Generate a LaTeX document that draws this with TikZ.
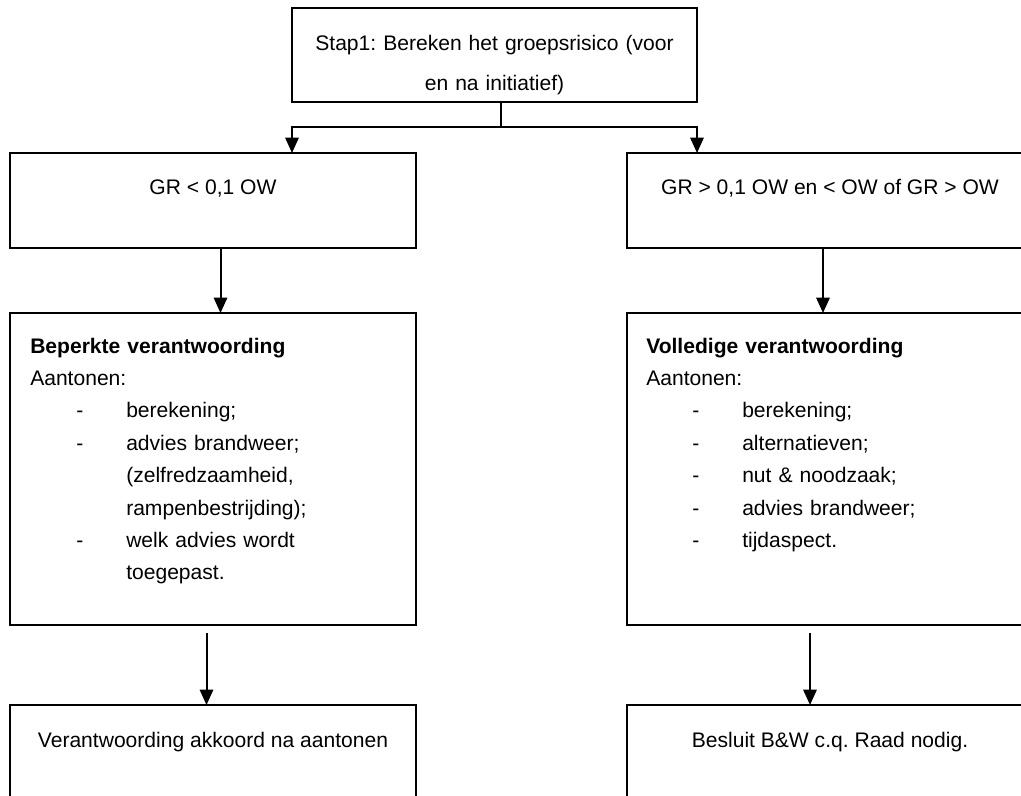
\documentclass[tikz,border=0pt]{standalone}
\usepackage{fontspec}
\setmainfont{Liberation Sans}
\usetikzlibrary{arrows.meta,calc}

\newlength{\pxu}\setlength{\pxu}{0.75pt}
\newcommand{\itm}[1]{\makebox[96\pxu][l]{\hspace*{46\pxu}-}#1}
\newcommand{\cnt}[1]{\hspace*{96\pxu}#1}
\frenchspacing

\begin{document}
\begin{tikzpicture}[
  x=0.75pt, y=-0.75pt, font=\fontsize{15.8}{24.3}\selectfont,
  box/.style ={draw,rectangle,line width=1.5pt,inner sep=0,outer sep=0,anchor=north west,
               minimum width=406*\pxu,minimum height=95*\pxu},
  tall/.style={box,minimum height=312*\pxu},
  txt/.style ={inner sep=0,anchor=base},
  lst/.style ={inner sep=0,anchor=base west,text width=370*\pxu,align=left},
  arr/.style ={draw,line width=1.5pt,-{Triangle[length=11.5pt,width=10pt]}},
  ln/.style  ={draw,line width=1.5pt},
]
\clip (0,0) rectangle (1021,796);

% ------------------------------------------------------------------ step 1
\node[box,minimum width=405*\pxu,minimum height=94*\pxu] (stap) at (292,8) {};
\node[txt,text width=395*\pxu,align=center,font=\fontsize{15.8}{30}\selectfont]
  at ($(stap.north)+(0,42)$) {Stap1: Bereken het groepsrisico (voor\\en na initiatief)};

% ------------------------------------------------------------------ both branches
\node[box] (grl) at (10,153) {};
\node[box] (grr) at (627,153) {};
\node[txt] at ($(grl.north)+(0,41)$) {GR < 0,1 OW};
\node[txt] at ($(grr.north)+(0,41)$) {GR > 0,1 OW en < OW of GR > OW};

\node[tall] (bep) at (10,313) {};
\node[tall] (vol) at (627,313) {};
\node[lst] at ($(bep.north west)+(20,40)$)
  {\textbf{Beperkte verantwoording}\\
   Aantonen:\\
   \itm{berekening;}\\
   \itm{advies brandweer;}\\
   \cnt{(zelfredzaamheid,}\\
   \cnt{rampenbestrijding);}\\
   \itm{welk advies wordt}\\
   \cnt{toegepast.}};
\node[lst] at ($(vol.north west)+(19,40)$)
  {\textbf{Volledige verantwoording}\\
   Aantonen:\\
   \itm{berekening;}\\
   \itm{alternatieven;}\\
   \itm{nut \& noodzaak;}\\
   \itm{advies brandweer;}\\
   \itm{tijdaspect.}};

\node[box] (akk) at (10,705) {};
\node[box] (bes) at (627,705) {};
\node[txt] at ($(akk.north)+(0,42)$) {Verantwoording akkoord na aantonen};
\node[txt] at ($(bes.north)+(0,42)$) {Besluit B\&W c.q. Raad nodig.};

% ------------------------------------------------------------------ connectors
\draw[ln] ($(stap.south)+(6,0)$) -- ++(0,25) coordinate (fork);
\draw[arr] (fork) -| (stap.south west |- grl.north);
\draw[arr] (fork) -| (stap.south east |- grr.north);
\draw[arr] ($(grl.south)+(7.5,0)$) -- ($(bep.north)+(7.5,0)$);
\draw[arr] ($(grr.south)+(-7,0)$) -- ($(vol.north)+(-7,0)$);
\draw[arr] ($(bep.south)+(-6.5,8)$) -- ($(akk.north)+(-6.5,0)$);
\draw[arr] ($(vol.south)+(-20,8)$) -- ($(bes.north)+(-20,0)$);

\end{tikzpicture}
\end{document}
